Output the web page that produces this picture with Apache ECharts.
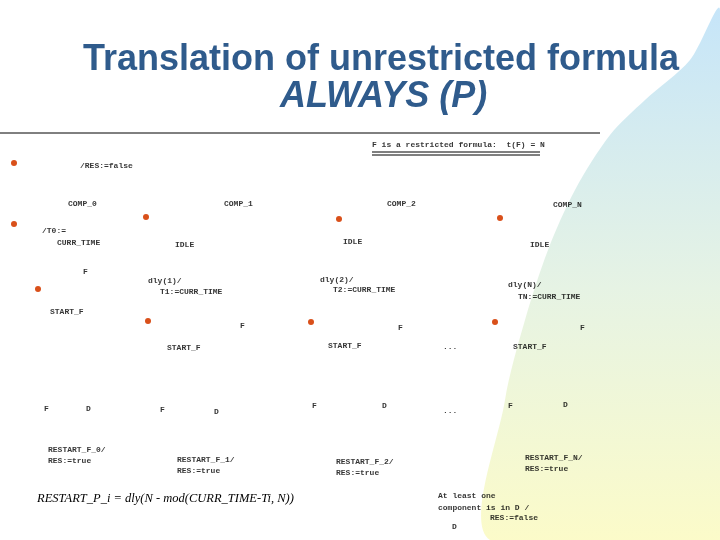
<!DOCTYPE html>
<html>
<head>
<meta charset="utf-8">
<script src="https://cdn.jsdelivr.net/npm/echarts@6/dist/echarts.min.js"></script>
<style>html,body{margin:0;padding:0;background:#fff}#main{width:720px;height:540px}</style>
</head>
<body>
<div id="main"></div>
<script>
// diagram labels: [text, x, y]
var labels = [
	["F is a restricted formula:  t(F) = N", 372, 145],
	["/RES:=false", 80, 166],
	["COMP_0", 68, 204], ["COMP_1", 224, 204], ["COMP_2", 387, 204], ["COMP_N", 553, 205],
	["/T0:=", 42, 231], ["CURR_TIME", 57, 243],
	["IDLE", 175, 245], ["IDLE", 343, 242], ["IDLE", 530, 245],
	["F", 83, 272],
	["dly(1)/", 148, 281], ["T1:=CURR_TIME", 160, 292],
	["dly(2)/", 320, 280], ["T2:=CURR_TIME", 333, 290],
	["dly(N)/", 508, 285], ["TN:=CURR_TIME", 518, 297],
	["START_F", 50, 312],
	["F", 240, 326], ["F", 398, 328], ["F", 580, 328],
	["START_F", 167, 348], ["START_F", 328, 346], ["...", 443, 347], ["START_F", 513, 347],
	["F", 44, 409], ["D", 86, 409], ["F", 160, 410], ["D", 214, 412], ["F", 312, 406],
	["D", 382, 406], ["...", 443, 411], ["F", 508, 406], ["D", 563, 405],
	["RESTART_F_0/", 48, 450], ["RES:=true", 48, 461],
	["RESTART_F_1/", 177, 460], ["RES:=true", 177, 471],
	["RESTART_F_2/", 336, 462], ["RES:=true", 336, 473],
	["RESTART_F_N/", 525, 458], ["RES:=true", 525, 469],
	["At least one", 438, 496], ["component is in D /", 438, 508], ["RES:=false", 490, 518], ["D", 452, 527]
];
// state dots
var dots = [[14,163],[146,217],[339,219],[500,218],[14,224],[38,289],[148,321],[311,322],[495,322]];
// rules
var topRule = [[0,133],[600,133]];
var dblRule1 = [[372,152],[540,152]];
var dblRule2 = [[372,155],[540,155]];

var chart = echarts.init(document.getElementById("main"));

function ruleSeries(pts) {
	return {
		type: 'line', data: pts, symbol: 'none', silent: true,
		lineStyle: { color: '#000', width: 1 }, z: 3
	};
}

var option = {
	animation: false,
	grid: { left: 0, right: 0, top: 0, bottom: 0 },
	xAxis: { type: 'value', min: 0, max: 720, show: false },
	yAxis: { type: 'value', min: 0, max: 540, inverse: true, show: false },
	graphic: [{
		type: 'polygon', z: -10,
		shape: { points: [[720,10],[690,60],[645,100],[610,135],[575,190],[548,250],[525,320],[505,400],[490,540],[720,540]], smooth: 0.3 },
		style: { fill: new echarts.graphic.LinearGradient(0, 0, 0, 1, [
			{ offset: 0, color: '#c6e5f9' }, { offset: 0.5, color: '#e6f3e4' }, { offset: 1, color: '#fefcc6' }
		]) }
	}, {
		type: 'text', left: 83, top: 42,
		style: { text: 'Translation of unrestricted formula', fill: '#2f5b8c', font: 'bold 36px "Liberation Sans", Arial' }
	}, {
		type: 'text', left: 280, top: 79,
		style: { text: 'ALWAYS (P)', fill: '#2f5b8c', font: 'italic bold 36px "Liberation Sans", Arial' }
	}, {
		type: 'text', left: 37, top: 492,
		style: { text: 'RESTART_P_i = dly(N - mod(CURR_TIME-Ti, N))', fill: '#000', font: 'italic 12.5px "Liberation Serif", serif' }
	}],
	series: [
		ruleSeries(topRule), ruleSeries(dblRule1), ruleSeries(dblRule2),
		{
			type: 'scatter', symbolSize: 6, data: dots,
			itemStyle: { color: '#d9501a', opacity: 1 }, z: 4
		},
		{
			type: 'scatter', symbolSize: 0, z: 5,
			data: labels.map(function (l) { return { value: [l[1], l[2]], name: l[0] }; }),
			label: {
				show: true, position: 'right', distance: 0,
				formatter: function (p) { return p.name; },
				fontFamily: '"Liberation Mono", monospace', fontSize: 8, color: '#000', fontWeight: 'bold'
			}
		}
	]
};
chart.setOption(option);
</script>
</body>
</html>
